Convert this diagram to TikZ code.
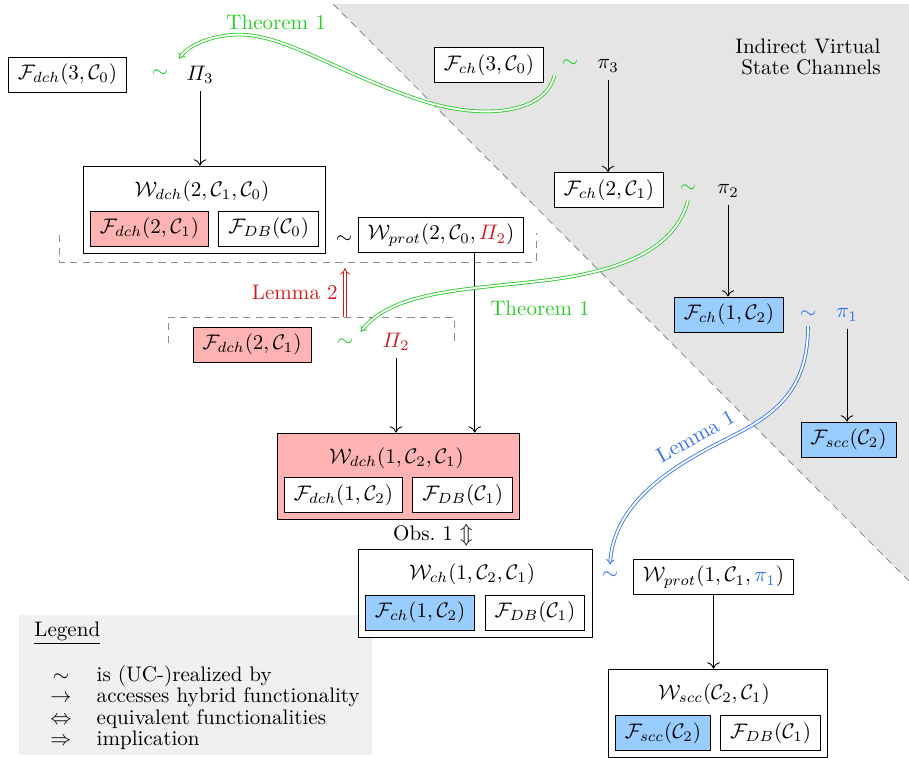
\documentclass[tikz,border=0pt]{standalone}
\usepackage{amsmath}
\usepackage{xcolor}
\usetikzlibrary{positioning,arrows.meta,fit,calc,backgrounds}
\definecolor{vsGreen}{RGB}{40,205,40}
\definecolor{vsRed}{RGB}{210,30,30}
\definecolor{vsBlue}{RGB}{50,115,240}
\definecolor{vsPink}{HTML}{FFB3B3}
\definecolor{vsSky}{HTML}{99CCFF}
\definecolor{vsShade}{HTML}{E5E5E5}
\definecolor{vsLegend}{HTML}{F0F0F0}
\definecolor{vsDash}{HTML}{8C8C8C}
\tikzset{
  vs-func/.style={draw, fill=white, minimum height=16.6pt,
    inner xsep=4.5pt, inner ysep=2pt},
  vs-pink/.style={vs-func, fill=vsPink},
  vs-sky/.style={vs-func, fill=vsSky},
  vs-hyb/.style={draw, fill=white, inner sep=3.3pt},
  vs-acc/.style={-{To[length=3pt,width=6pt]}},
  vs-real/.style={double, line width=0.4pt, double distance=0.9pt,
    -{Implies[length=4.5pt,width=8pt]}},
  vs-brk/.style={draw=vsDash, dash pattern=on 3.5pt off 2.5pt}
}
\begin{document}
\begin{tikzpicture}[x=0.475pt, y=-0.475pt]
\useasboundingbox (0,0) rectangle (909,758);
% shaded region and legend background
\begin{scope}[on background layer]
  \fill[vsShade] (333,4) -- (909,4) -- (909,581) -- cycle;
  \fill[vsLegend] (19,615) rectangle (372,755);
\end{scope}
\draw[vs-brk] (333,4) -- (909,581);
\node[align=right] (area) at (808,57) {Indirect Virtual\\[-2pt]State Channels};

% level 3
\node[vs-func] (fdchA) at (67.5,74.5) {$\mathcal{F}_{dch}(3,\mathcal{C}_0)$};
\node[text=vsGreen] (simA) at (160,74) {$\sim$};
\node (PiA) at (200,75) {$\varPi_3$};
\node[vs-func] (fchG) at (489,65) {$\mathcal{F}_{ch}(3,\mathcal{C}_0)$};
\node[text=vsGreen] (simG) at (570,64) {$\sim$};
\node (piG) at (608,66) {$\pi_3$};

% level 2
\draw[vs-brk] (59,235) -- (59,262) -- (536,262) -- (536,233);
\node[vs-pink, anchor=west] (fdchB) at (90,228.5) {$\mathcal{F}_{dch}(2,\mathcal{C}_1)$};
\node[vs-func, right=4.5pt of fdchB] (fdbB) {$\mathcal{F}_{DB}(\mathcal{C}_0)$};
\node (wdchBt) at (202,191) {$\mathcal{W}_{dch}(2,\mathcal{C}_1,\mathcal{C}_0)$};
\begin{scope}[on background layer]
  \node[vs-hyb, fit=(wdchBt)(fdchB)(fdbB)] (wdchB) {};
\end{scope}
\node (simB) at (344,240) {$\sim$};
\node[vs-func] (wprotB) at (441,235) {$\mathcal{W}_{prot}(2,\mathcal{C}_0,\textcolor{vsRed}{\varPi_2})$};
\node[vs-func] (fchH) at (609,190) {$\mathcal{F}_{ch}(2,\mathcal{C}_1)$};
\node[text=vsGreen] (simH) at (688,189) {$\sim$};
\node (piH) at (728,191) {$\pi_2$};

% lemma 2 step
\draw[vs-brk] (168,343) -- (168,317) -- (454,317) -- (454,343);
\coordinate (brkLowTop) at (345,317);
\coordinate (brkUpBot) at (345,268);
\node[vs-pink] (fdchC) at (252,344.5) {$\mathcal{F}_{dch}(2,\mathcal{C}_1)$};
\node[text=vsGreen] (simC) at (345,343) {$\sim$};
\node[text=vsRed] (PiC) at (396,342) {$\varPi_2$};
\node[vs-sky] (fchI) at (729,314.5) {$\mathcal{F}_{ch}(1,\mathcal{C}_2)$};
\node[text=vsBlue] (simI) at (808,315) {$\sim$};
\node[text=vsBlue] (piI) at (847,315) {$\pi_1$};
\node[vs-sky] (fsccJ) at (848.5,439.5) {$\mathcal{F}_{scc}(\mathcal{C}_2)$};

% level 1
\node[vs-func, anchor=west] (fdchD) at (284,495) {$\mathcal{F}_{dch}(1,\mathcal{C}_2)$};
\node[vs-func, right=4.5pt of fdchD] (fdbD) {$\mathcal{F}_{DB}(\mathcal{C}_1)$};
\node (wdchDt) at (396.5,458) {$\mathcal{W}_{dch}(1,\mathcal{C}_2,\mathcal{C}_1)$};
\begin{scope}[on background layer]
  \node[vs-hyb, fill=vsPink, fit=(wdchDt)(fdchD)(fdbD)] (wdchD) {};
\end{scope}
\node (obs) at (433,535) {Obs.~1 $\Updownarrow$};
\node[vs-sky, anchor=west] (fchE) at (365,612.5) {$\mathcal{F}_{ch}(1,\mathcal{C}_2)$};
\node[vs-func, right=4.5pt of fchE] (fdbE) {$\mathcal{F}_{DB}(\mathcal{C}_1)$};
\node (wchEt) at (472,574) {$\mathcal{W}_{ch}(1,\mathcal{C}_2,\mathcal{C}_1)$};
\begin{scope}[on background layer]
  \node[vs-hyb, fit=(wchEt)(fchE)(fdbE)] (wchE) {};
\end{scope}
\node[text=vsBlue] (simE) at (610,576) {$\sim$};
\node[vs-func] (wprotE) at (713.5,577) {$\mathcal{W}_{prot}(1,\mathcal{C}_1,\textcolor{vsBlue}{\pi_1})$};
\node[vs-sky, anchor=west] (fsccF) at (615,733) {$\mathcal{F}_{scc}(\mathcal{C}_2)$};
\node[vs-func, right=4.5pt of fsccF] (fdbF) {$\mathcal{F}_{DB}(\mathcal{C}_1)$};
\node (wsccFt) at (714,694) {$\mathcal{W}_{scc}(\mathcal{C}_2,\mathcal{C}_1)$};
\begin{scope}[on background layer]
  \node[vs-hyb, fit=(wsccFt)(fsccF)(fdbF)] (wsccF) {};
\end{scope}

% hybrid access
\draw[vs-acc] (PiA) -- (PiA |- wdchB.north);
\draw[vs-acc] (piG) -- (piG |- fchH.north);
\draw[vs-acc] (piH) -- (piH |- fchI.north);
\draw[vs-acc] (piI) -- (piI |- fsccJ.north);
\draw[vs-acc] (PiC) -- (PiC |- wdchD.north);
\coordinate (dropB) at ([xshift=16pt]wprotB.south);
\draw[vs-acc] (dropB) -- (dropB |- wdchD.north);
\draw[vs-acc] (wprotE) -- (wprotE |- wsccF.north);

% realizations
\draw[vs-real, vsGreen] (simG.south west) .. controls (545,115) and (480,120) .. (420,100)
  .. controls (330,70) and (280,30) .. node[pos=0.7, above=2pt]{Theorem 1} (230,35)
  .. controls (200,38) and (185,50) .. (PiA.north west);
\draw[vs-real, vsGreen] (simH.south) .. controls (675,250) and (620,272) .. node[pos=1, below=6pt]{Theorem 1} (540,281)
  .. controls (460,290) and (393,292) .. (simC.north east);
\draw[vs-real, vsBlue] (simI.south) .. controls (808,385) and (780,411) .. (740,432)
  .. controls (700,453) and (615,490) .. node[pos=0.25, sloped, above=1pt]{Lemma 1} (simE.north);
\draw[vs-real, vsRed, double distance=1.2pt] (brkLowTop) -- node[left]{Lemma 2} (brkUpBot);

% legend
\node[anchor=base west] (legTitle) at (27,636) {\underline{Legend}};
\node[anchor=north west, inner sep=0pt] (legItems) at (50,665) {\renewcommand{\arraystretch}{0.85}%
  \begin{tabular}{@{}c@{\hspace{12pt}}l@{}}
  $\sim$ & is (UC-)realized by\\
  $\rightarrow$ & accesses hybrid functionality\\
  $\Leftrightarrow$ & equivalent functionalities\\
  $\Rightarrow$ & implication
  \end{tabular}};
\end{tikzpicture}
\end{document}
